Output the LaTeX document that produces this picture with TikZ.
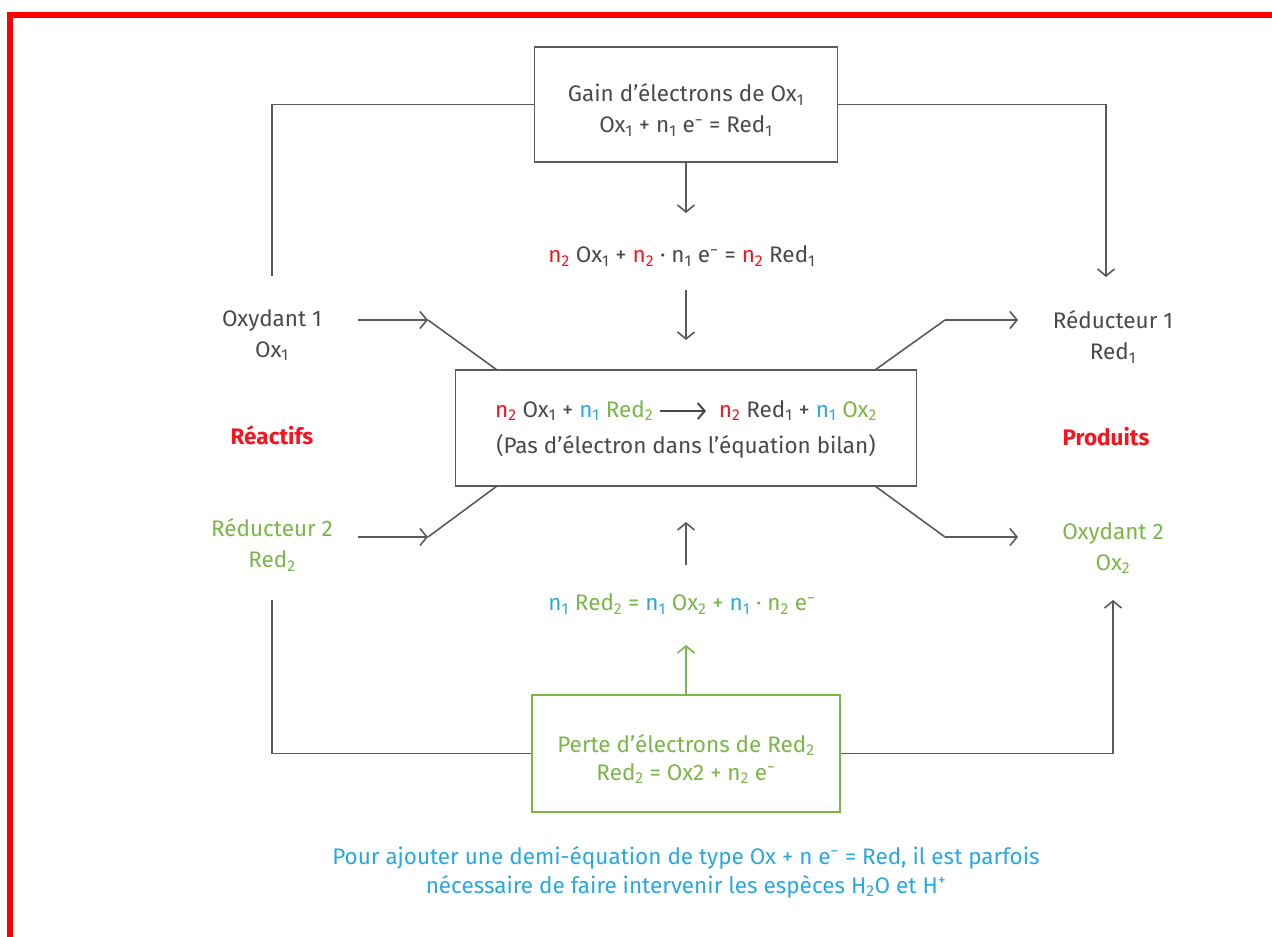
\documentclass[tikz,border=0pt]{standalone}
\usepackage{fontspec}
\setmainfont{Fira Sans}
\usetikzlibrary{arrows.meta}
\definecolor{tgray}{HTML}{4A4A4A}
\definecolor{lgray}{HTML}{5A5A5A}
\definecolor{cred}{HTML}{F7141E}
\definecolor{cblue}{HTML}{29A8E0}
\definecolor{cgreen}{HTML}{7AB648}
\newcommand{\sbs}[1]{\textsubscript{#1}}
\newcommand{\spm}{\textsuperscript{−}}
\newcommand{\longarr}{\tikz[baseline={(0pt,-6pt)}]\draw[draw=tgray, line width=2pt,-{Straight Barb[length=7pt,width=16pt,line width=2pt]}] (0pt,0pt) -- (46pt,0pt);}
\tikzset{
  txt/.style={font=\fontsize{22.5}{31}\selectfont, text=tgray, align=center, inner sep=0pt},
  boldtxt/.style={txt, font=\fontsize{22.5}{31}\selectfont\bfseries},
  graybox/.style={draw=lgray, line width=1.6pt, inner sep=0pt},
  greenbox/.style={draw=cgreen, line width=1.6pt, inner sep=0pt},
  conn/.style={draw=lgray, line width=1.6pt},
  arr/.style={conn, -{Straight Barb[length=7pt,width=17pt,line width=1.6pt]}},
}
\begin{document}
\begin{tikzpicture}[x=1pt,y=-1pt]
\useasboundingbox (0,0) rectangle (1272,937);
\clip (0,0) rectangle (1272,937);
\fill[white] (0,0) rectangle (1272,937);
\draw[red, line width=6pt] (10,15) rectangle (1300,980);

% boxes
\node[graybox, minimum width=303pt, minimum height=115pt] (gain) at (686,104.5) {};
\node[txt] (gaintxt) at (686,110)
  {Gain d’électrons de Ox\sbs{1}\\Ox\sbs{1} + n\sbs{1} e\spm{} = Red\sbs{1}};
\node[graybox, minimum width=461pt, minimum height=116pt] (mid) at (686,428) {};
\node[txt] (midtxt) at (686,429)
  {{\color{cred}n\sbs{2}} Ox\sbs{1} + {\color{cblue}n\sbs{1}} {\color{cgreen}Red\sbs{2}} \longarr{} \ {\color{cred}n\sbs{2}} Red\sbs{1} + {\color{cblue}n\sbs{1}} {\color{cgreen}Ox\sbs{2}}\\[5pt](Pas d’électron dans l’équation bilan)};
\node[greenbox, minimum width=308pt, minimum height=117pt] (perte) at (686,753.5) {};
\node[txt, text=cgreen, font=\fontsize{22.5}{28}\selectfont] (pertetxt) at (686,759)
  {Perte d’électrons de Red\sbs{2}\\Red\sbs{2} = Ox2 + n\sbs{2} e\spm};

% equations
\node[txt] (eq1) at (682,256)
  {{\color{cred}n\sbs{2}} Ox\sbs{1} + {\color{cred}n\sbs{2}} · n\sbs{1} e\spm{} = {\color{cred}n\sbs{2}} Red\sbs{1}};
\node[txt, text=cgreen] (eq2) at (682,604)
  {{\color{cblue}n\sbs{1}} Red\sbs{2} = {\color{cblue}n\sbs{1}} Ox\sbs{2} + {\color{cblue}n\sbs{1}} · n\sbs{2} e\spm};

% side labels
\node[txt] (ox1) at (272,335) {Oxydant 1\\Ox\sbs{1}};
\node[boldtxt, text=cred] (reac) at (272,435) {Réactifs};
\node[txt, text=cgreen] (red2) at (272,545) {Réducteur 2\\Red\sbs{2}};
\node[txt] (red1) at (1113,337) {Réducteur 1\\Red\sbs{1}};
\node[boldtxt, text=cred] (prod) at (1106,437) {Produits};
\node[txt, text=cgreen] (ox2) at (1113,548) {Oxydant 2\\Ox\sbs{2}};

% note
\node[txt, text=cblue, font=\fontsize{22.5}{29}\selectfont] (note) at (686,872)
  {Pour ajouter une demi-équation de type Ox + n e\spm{} = Red, il est parfois\\nécessaire de faire intervenir les espèces H\sbs{2}O et H\textsuperscript{+}};

% coordinates
\coordinate (tlb) at (272,276);
\coordinate (trb) at (1106,277);
\coordinate (a1) at (686,213);
\coordinate (a2s) at (686,290);
\coordinate (a2e) at (686,340);
\coordinate (a3s) at (686,565);
\coordinate (a3e) at (686,522);
\coordinate (a4e) at (686,645);
\coordinate (blb) at (272,600);
\coordinate (brb) at (1113,600);

\coordinate (i1s) at (358,320);
\coordinate (i1k) at (428,320);
\coordinate (i1e) at (497,370);
\coordinate (i2s) at (358,537);
\coordinate (i2k) at (428,537);
\coordinate (i2e) at (497,486);
\coordinate (o1s) at (875,370);
\coordinate (o1k) at (945,320);
\coordinate (o1e) at (1018,320);
\coordinate (o2s) at (875,486);
\coordinate (o2k) at (945,537);
\coordinate (o2e) at (1018,537);

% connectors
\draw[conn] (gain.west) -| (tlb);
\draw[arr] (gain.east) -| (trb);
\draw[arr] (gain.south) -- (a1);
\draw[arr] (a2s) -- (a2e);
\draw[arr] (a3s) -- (a3e);
\draw[arr, draw=cgreen] (perte.north) -- (a4e);
\draw[conn] (perte.west) -| (blb);
\draw[arr] (perte.east) -| (brb);

\draw[arr] (i1s) -- (i1k);
\draw[conn] (i1k) -- (i1e);
\draw[arr] (i2s) -- (i2k);
\draw[conn] (i2k) -- (i2e);
\draw[conn] (o1s) -- (o1k);
\draw[arr] (o1k) -- (o1e);
\draw[conn] (o2s) -- (o2k);
\draw[arr] (o2k) -- (o2e);
\end{tikzpicture}
\end{document}
